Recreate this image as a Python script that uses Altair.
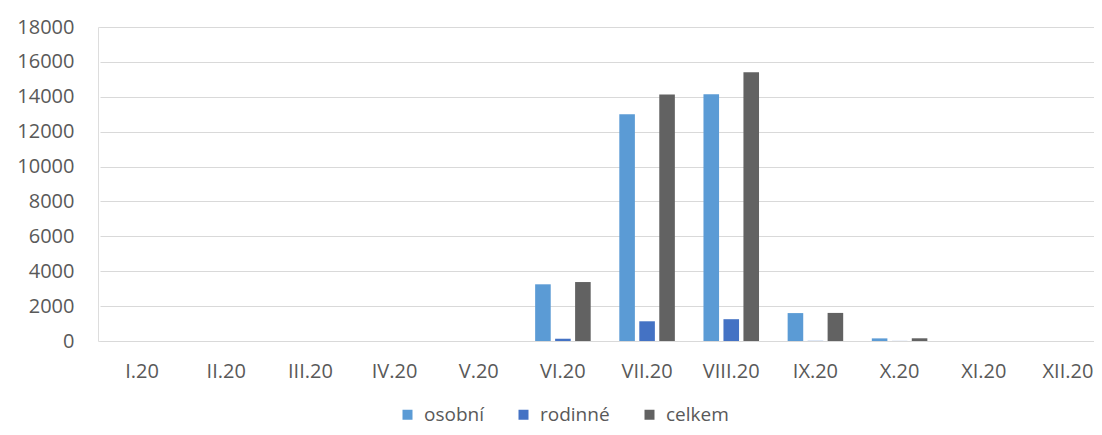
import altair as alt
import pandas as pd

months = ["I.20", "II.20", "III.20", "IV.20", "V.20", "VI.20", "VII.20", "VIII.20", "IX.20", "X.20", "XI.20", "XII.20"]
osobni = [0, 0, 0, 0, 0, 3250, 13000, 14150, 1600, 150, 0, 0]
rodinne = [0, 0, 0, 0, 0, 130, 1130, 1250, 10, 5, 0, 0]
celkem = [0, 0, 0, 0, 0, 3380, 14130, 15400, 1610, 155, 0, 0]
series = ["osobní", "rodinné", "celkem"]
colors = ["#5B9BD5", "#4472C4", "#626262"]
y_ticks = list(range(0, 18001, 2000))

rows = []
for i, m in enumerate(months):
    for s, vals in zip(series, [osobni, rodinne, celkem]):
        rows.append({"mesic": m, "serie": s, "hodnota": vals[i]})
df = pd.DataFrame(rows)

FONT = "Open Sans"
TXT = "#595959"

chart = alt.Chart(df).mark_bar().encode(
    x=alt.X("mesic:N", sort=months, title=None,
            scale=alt.Scale(paddingInner=0.34, paddingOuter=0.17, range=[2, 1012]),
            axis=alt.Axis(labelAngle=0, ticks=False, domain=False, labelPadding=20,
                          labelFontSize=20, labelColor=TXT, labelFont=FONT)),
    xOffset=alt.XOffset("serie:N", sort=series, scale=alt.Scale(paddingInner=0.22)),
    y=alt.Y("hodnota:Q", title=None,
            scale=alt.Scale(domain=[0, 18000]),
            axis=alt.Axis(values=y_ticks, format="d", ticks=False, domain=False,
                          labelPadding=24, labelFontSize=20, labelColor=TXT,
                          labelFont=FONT, gridColor="#d9d9d9", gridWidth=1)),
    color=alt.Color("serie:N", sort=series, scale=alt.Scale(domain=series, range=colors),
                    legend=alt.Legend(title=None, orient="none", direction="horizontal",
                                      legendX=300, legendY=378, padding=0,
                                      symbolType="square", symbolSize=100,
                                      labelFontSize=19, labelColor=TXT, labelOffset=7,
                                      labelFont=FONT, columnPadding=30, symbolStrokeWidth=0)),
).properties(
    width=996, height=314,
    autosize=alt.AutoSizeParams(type="none"),
    padding={"left": 90, "top": 19, "right": 0, "bottom": 86},
).configure_view(stroke=None).configure(background="white")

chart.save("out.html", embed_options={"renderer": "svg", "actions": False})
